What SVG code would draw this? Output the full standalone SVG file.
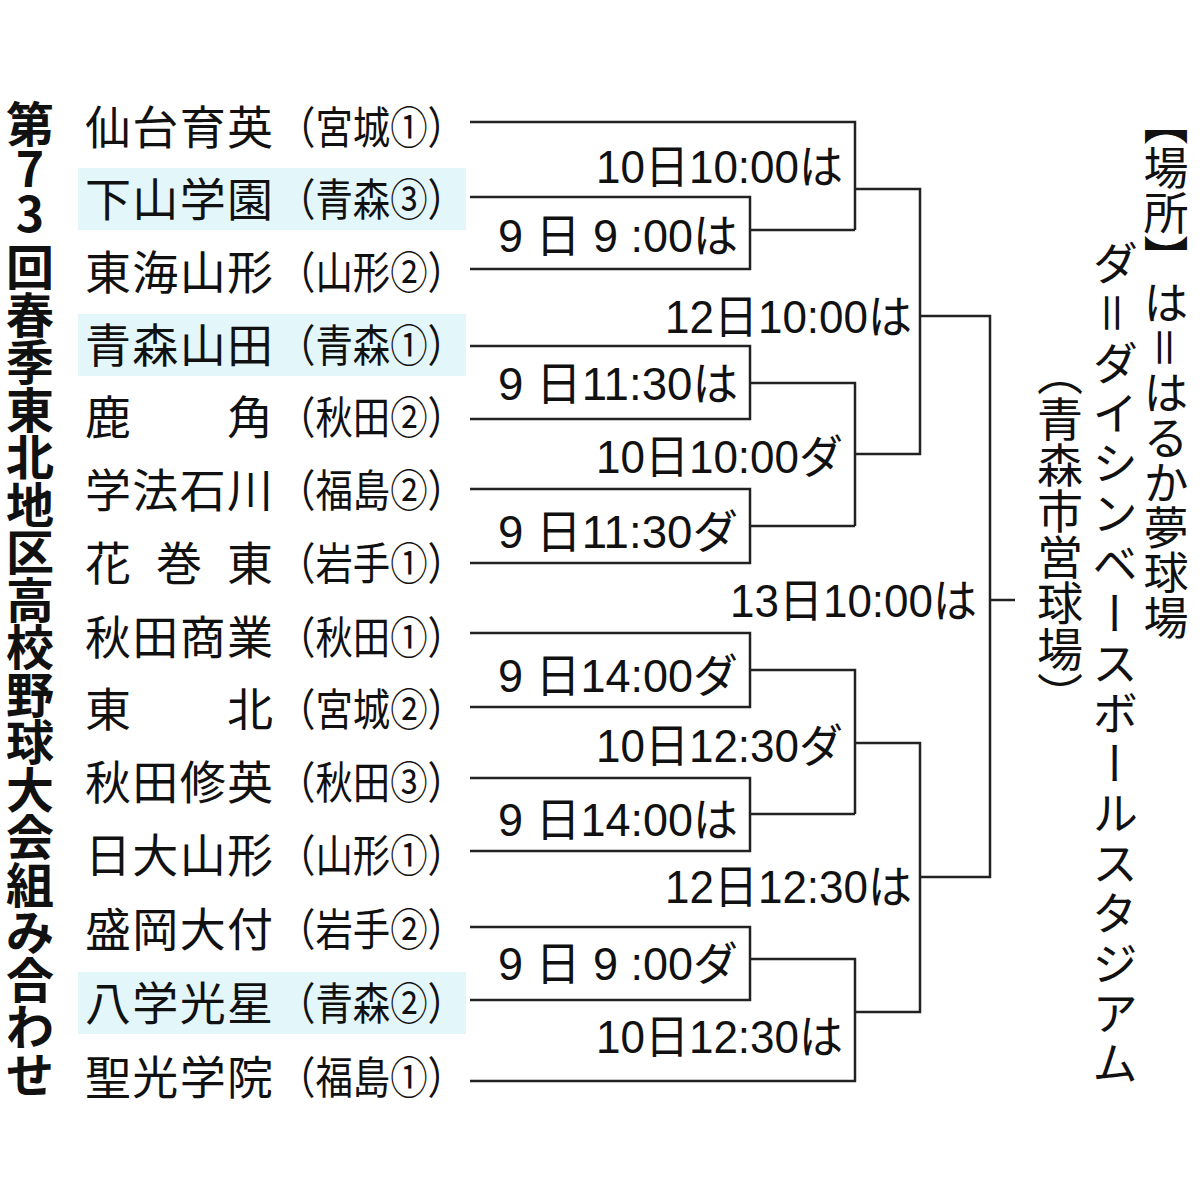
<svg xmlns="http://www.w3.org/2000/svg" width="1200" height="1200" viewBox="0 0 1200 1200">
<style>
.t{font-family:"Noto Sans CJK JP","Liberation Sans",sans-serif;font-size:44px;fill:#111}
.n{font-family:"Noto Sans CJK JP","Liberation Sans",sans-serif;font-size:46px;fill:#111}
.lbl{font-family:"Liberation Sans","Noto Sans CJK JP",sans-serif;font-size:46px;fill:#111;text-anchor:end}
.ttl{font-family:"Noto Sans CJK JP",sans-serif;font-size:48px;font-weight:bold;fill:#111;text-anchor:middle}
.v{font-family:"Noto Sans CJK JP",sans-serif;font-size:46px;fill:#111;writing-mode:vertical-rl}
.ln{fill:none;stroke:#222;stroke-width:2.5}
.hl{fill:#e3f6fa}
</style>
<rect width="1200" height="1200" fill="#fff"/>
<g id="title">
<text class="ttl" x="30 30 30 30 30 30 30 30 30 30 30 30 30 30 30 30 30 30 30 30 30" y="142 187 232 285 333 380 428 475 523 570 618 665 713 760 808 855 903 950 998 1045 1093">第73回春季東北地区高校野球大会組み合わせ</text>
</g>
<g id="highlights">
<rect class="hl" x="78" y="168" width="388" height="62"/>
<rect class="hl" x="78" y="314" width="388" height="62"/>
<rect class="hl" x="78" y="972" width="388" height="62"/>
</g>
<g id="teams">
<g id="t1"><text class="n" x="85" y="144" textLength="188" lengthAdjust="spacing">仙台育英</text><text class="t" x="278" y="144" textLength="187" lengthAdjust="spacingAndGlyphs">（宮城①）</text></g>
<g id="t2"><text class="n" x="85" y="216" textLength="188" lengthAdjust="spacing">下山学園</text><text class="t" x="278" y="216" textLength="187" lengthAdjust="spacingAndGlyphs">（青森③）</text></g>
<g id="t3"><text class="n" x="85" y="289" textLength="188" lengthAdjust="spacing">東海山形</text><text class="t" x="278" y="289" textLength="187" lengthAdjust="spacingAndGlyphs">（山形②）</text></g>
<g id="t4"><text class="n" x="85" y="362" textLength="188" lengthAdjust="spacing">青森山田</text><text class="t" x="278" y="362" textLength="187" lengthAdjust="spacingAndGlyphs">（青森①）</text></g>
<g id="t5"><text class="n" x="85" y="434">鹿</text><text class="n" x="227" y="434">角</text><text class="t" x="278" y="434" textLength="187" lengthAdjust="spacingAndGlyphs">（秋田②）</text></g>
<g id="t6"><text class="n" x="85" y="507" textLength="188" lengthAdjust="spacing">学法石川</text><text class="t" x="278" y="507" textLength="187" lengthAdjust="spacingAndGlyphs">（福島②）</text></g>
<g id="t7"><text class="n" x="85" y="580">花</text><text class="n" x="156" y="580">巻</text><text class="n" x="227" y="580">東</text><text class="t" x="278" y="580" textLength="187" lengthAdjust="spacingAndGlyphs">（岩手①）</text></g>
<g id="t8"><text class="n" x="85" y="654" textLength="188" lengthAdjust="spacing">秋田商業</text><text class="t" x="278" y="654" textLength="187" lengthAdjust="spacingAndGlyphs">（秋田①）</text></g>
<g id="t9"><text class="n" x="85" y="726">東</text><text class="n" x="227" y="726">北</text><text class="t" x="278" y="726" textLength="187" lengthAdjust="spacingAndGlyphs">（宮城②）</text></g>
<g id="t10"><text class="n" x="85" y="799" textLength="188" lengthAdjust="spacing">秋田修英</text><text class="t" x="278" y="799" textLength="187" lengthAdjust="spacingAndGlyphs">（秋田③）</text></g>
<g id="t11"><text class="n" x="85" y="872" textLength="188" lengthAdjust="spacing">日大山形</text><text class="t" x="278" y="872" textLength="187" lengthAdjust="spacingAndGlyphs">（山形①）</text></g>
<g id="t12"><text class="n" x="85" y="946" textLength="188" lengthAdjust="spacing">盛岡大付</text><text class="t" x="278" y="946" textLength="187" lengthAdjust="spacingAndGlyphs">（岩手②）</text></g>
<g id="t13"><text class="n" x="85" y="1020" textLength="188" lengthAdjust="spacing">八学光星</text><text class="t" x="278" y="1020" textLength="187" lengthAdjust="spacingAndGlyphs">（青森②）</text></g>
<g id="t14"><text class="n" x="85" y="1094" textLength="188" lengthAdjust="spacing">聖光学院</text><text class="t" x="278" y="1094" textLength="187" lengthAdjust="spacingAndGlyphs">（福島①）</text></g>
</g>
<g id="connectors">
<path class="ln" d="M470 122H855V230M470 197H750V269H470M750 230H855"/>
<path class="ln" d="M470 346H750V419H470M750 383H855V526M470 489H750V563H470M750 526H855"/>
<path class="ln" d="M470 633H750V707H470M750 670H855V814M470 778H750V851H470M750 814H855"/>
<path class="ln" d="M470 927H750V1000H470M750 959H855V1081H470"/>
<path class="ln" d="M855 189H920V454H855"/>
<path class="ln" d="M855 743H920V1012H855"/>
<path class="ln" d="M920 316H990V877H920M990 600H1015"/>
</g>
<g id="labels">
<text class="lbl" x="843" y="183" textLength="247" lengthAdjust="spacingAndGlyphs">10日10:00は</text>
<text class="lbl" x="738" y="252" textLength="240" lengthAdjust="spacingAndGlyphs">9 日 9 :00は</text>
<text class="lbl" x="912" y="333" textLength="247" lengthAdjust="spacingAndGlyphs">12日10:00は</text>
<text class="lbl" x="738" y="400" textLength="240" lengthAdjust="spacingAndGlyphs">9 日11:30は</text>
<text class="lbl" x="843" y="473" textLength="247" lengthAdjust="spacingAndGlyphs">10日10:00ダ</text>
<text class="lbl" x="738" y="548" textLength="240" lengthAdjust="spacingAndGlyphs">9 日11:30ダ</text>
<text class="lbl" x="977" y="617" textLength="247" lengthAdjust="spacingAndGlyphs">13日10:00は</text>
<text class="lbl" x="738" y="692" textLength="240" lengthAdjust="spacingAndGlyphs">9 日14:00ダ</text>
<text class="lbl" x="843" y="762" textLength="247" lengthAdjust="spacingAndGlyphs">10日12:30ダ</text>
<text class="lbl" x="738" y="836" textLength="240" lengthAdjust="spacingAndGlyphs">9 日14:00は</text>
<text class="lbl" x="912" y="903" textLength="247" lengthAdjust="spacingAndGlyphs">12日12:30は</text>
<text class="lbl" x="738" y="980" textLength="240" lengthAdjust="spacingAndGlyphs">9 日 9 :00ダ</text>
<text class="lbl" x="843" y="1053" textLength="247" lengthAdjust="spacingAndGlyphs">10日12:30は</text>
</g>
<g id="legend">
<text class="v" x="1166" y="100" style="font-size:45px">【場所】は＝はるか夢球場</text>
<text class="v" x="1115" y="240" style="letter-spacing:4px">ダ＝ダイシンベースボールスタジアム</text>
<text class="v" x="1060" y="350">（青森市営球場）</text>
</g>
</svg>
